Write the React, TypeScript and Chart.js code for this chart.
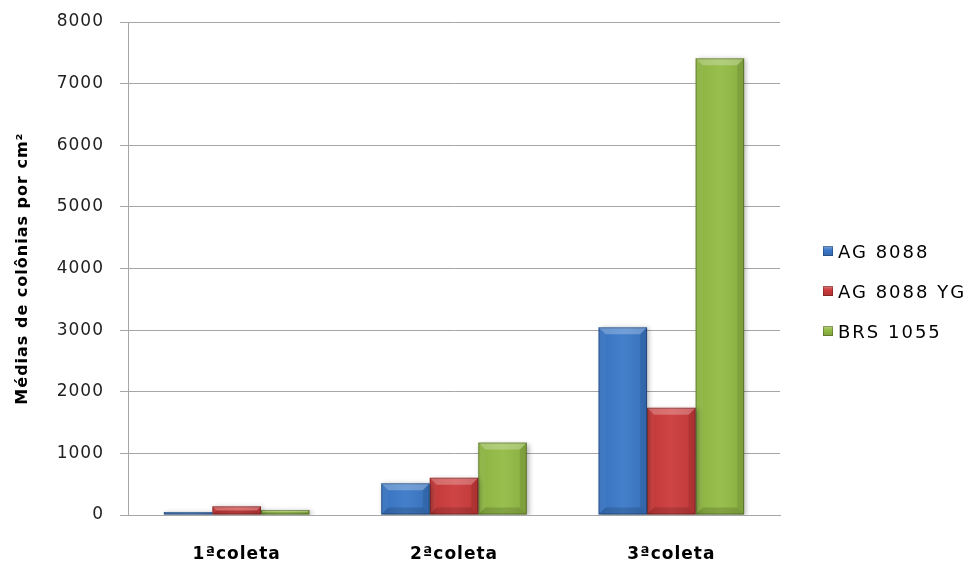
import React, { useEffect, useRef } from "react";
import { Chart, registerables } from "chart.js";

Chart.register(...registerables);

const categories = ["1ªcoleta", "2ªcoleta", "3ªcoleta"];
const seriesNames = ["AG 8088", "AG 8088 YG", "BRS 1055"];
const ag8088 = [50, 515, 3045];
const ag8088yg = [140, 605, 1740];
const brs1055 = [80, 1175, 7410];
const seriesColors = ["#3a78c8", "#cc3a3a", "#93bb45"];
const yTitle = "Médias de colônias por cm²";

const FONT = "'DejaVu Sans', 'Liberation Sans', Arial, sans-serif";

const spacingPlugin = {
  id: "spacing",
  beforeLayout(chart: any) {
    chart.ctx.letterSpacing = "1px";
  },
  beforeDraw(chart: any) {
    chart.ctx.letterSpacing = "1px";
  },
};

function poly(ctx: CanvasRenderingContext2D, pts: number[][], fill: string) {
  ctx.beginPath();
  ctx.moveTo(pts[0][0], pts[0][1]);
  for (let i = 1; i < pts.length; i++) ctx.lineTo(pts[i][0], pts[i][1]);
  ctx.closePath();
  ctx.fillStyle = fill;
  ctx.fill();
}

const bevelPlugin = {
  id: "bevel",
  beforeDatasetsDraw(chart: any) {
    const ctx = chart.ctx;
    ctx.save();
    ctx.shadowColor = "rgba(0,0,0,0.3)";
    ctx.shadowBlur = 5;
    ctx.shadowOffsetX = 2;
    ctx.shadowOffsetY = 1;
  },
  afterDatasetsDraw(chart: any) {
    const ctx = chart.ctx as CanvasRenderingContext2D;
    ctx.restore();
    ctx.save();
    chart.data.datasets.forEach((_ds: any, di: number) => {
      const meta = chart.getDatasetMeta(di);
      meta.data.forEach((el: any) => {
        const { x, y, base, width } = el.getProps(["x", "y", "base", "width"], true);
        const l = x - width / 2;
        const r = x + width / 2;
        const t = Math.min(y, base);
        const b = Math.max(y, base);
        const h = b - t;
        if (h <= 0) return;
        const bv = Math.min(7, h / 2, width / 2);
        const g = ctx.createLinearGradient(l, 0, r, 0);
        g.addColorStop(0, "rgba(0,0,0,0.05)");
        g.addColorStop(0.5, "rgba(255,255,255,0.05)");
        g.addColorStop(1, "rgba(0,0,0,0.08)");
        ctx.fillStyle = g;
        ctx.fillRect(l, t, width, h);
        poly(ctx, [[l, t], [r, t], [r - bv, t + bv], [l + bv, t + bv]], "rgba(255,255,255,0.25)");
        poly(ctx, [[l, t], [l + bv, t + bv], [l + bv, b - bv], [l, b]], "rgba(255,255,255,0.04)");
        poly(ctx, [[r, t], [r - bv, t + bv], [r - bv, b - bv], [r, b]], "rgba(0,0,0,0.09)");
        poly(ctx, [[l, b], [l + bv, b - bv], [r - bv, b - bv], [r, b]], "rgba(0,0,0,0.14)");
        ctx.strokeStyle = "rgba(0,0,0,0.28)";
        ctx.lineWidth = 1;
        ctx.strokeRect(l + 0.5, t + 0.5, width - 1, h - 1);
      });
    });
    ctx.restore();
  },
};

export default function App() {
  const ref = useRef<HTMLCanvasElement | null>(null);

  useEffect(() => {
    if (!ref.current) return;
    const values = [ag8088, ag8088yg, brs1055];
    const chart = new Chart(ref.current, {
      type: "bar",
      data: {
        labels: categories,
        datasets: seriesNames.map((name, i) => ({
          label: name,
          data: values[i],
          backgroundColor: seriesColors[i],
          borderWidth: 0,
          categoryPercentage: 0.67,
          barPercentage: 1.0,
        })),
      },
      options: {
        responsive: false,
        animation: false,
        devicePixelRatio: 1,
        layout: { padding: { top: 22, right: 200, bottom: 0, left: 0 } },
        plugins: {
          legend: { display: false },
          tooltip: { enabled: false },
        },
        scales: {
          x: {
            grid: { display: false, drawTicks: false },
            border: { display: true, color: "#a6a6a6" },
            ticks: {
              color: "#000",
              padding: 29,
              font: { family: FONT, size: 17, weight: "bold" },
            },
            afterFit(scale: any) {
              scale.height = 48;
              scale.paddingTop = 0;
            },
          },
          y: {
            min: 0,
            max: 8000,
            ticks: {
              stepSize: 1000,
              color: "#222",
              padding: 16,
              font: { family: FONT, size: 17 },
              callback: (v: any) => String(v),
            },
            grid: { color: "#a6a6a6", lineWidth: 1, tickLength: 8 },
            border: { display: true, color: "#a6a6a6" },
            title: {
              display: true,
              text: yTitle,
              color: "#000",
              padding: { top: 13, bottom: 0 },
              font: { family: FONT, size: 16, weight: "bold" },
            },
            afterFit(scale: any) {
              scale.width = 128;
              scale.paddingTop = 0;
            },
          },
        },
      },
      plugins: [spacingPlugin, bevelPlugin],
    });
    return () => chart.destroy();
  }, []);

  const rowTops = [251, 291, 331];

  return (
    <div style={{ position: "absolute", left: 0, top: 0, width: 980, height: 563, background: "#fff" }}>
      <canvas ref={ref} width={980} height={563} style={{ display: "block" }} />
      {seriesNames.map((name, i) => (
        <div
          key={name}
          style={{
            position: "absolute",
            left: 823,
            top: rowTops[i] - 12,
            height: 24,
            display: "flex",
            alignItems: "center",
            fontFamily: FONT,
            fontSize: 18,
            letterSpacing: "2px",
            color: "#000",
            whiteSpace: "nowrap",
          }}
        >
          <span
            style={{
              display: "inline-block",
              width: 10,
              height: 10,
              marginRight: 5,
              background: `linear-gradient(180deg, rgba(255,255,255,0.35), rgba(255,255,255,0) 40%, rgba(0,0,0,0.15)), ${seriesColors[i]}`,
              boxShadow: "inset 0 0 0 1px rgba(0,0,0,0.25)",
            }}
          />
          {name}
        </div>
      ))}
    </div>
  );
}
